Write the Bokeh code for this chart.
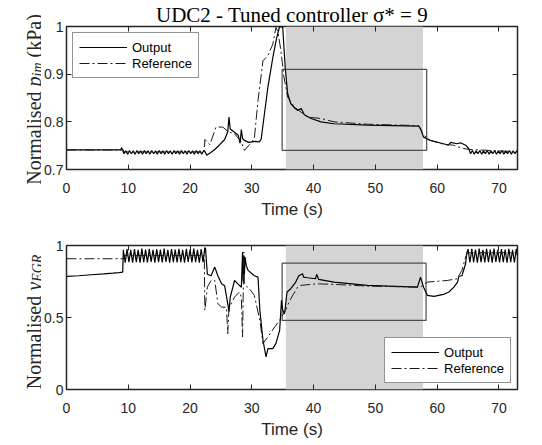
import numpy as np
from bokeh.plotting import figure
from bokeh.layouts import column, row
from bokeh.models import LinearAxis, FixedTicker, CustomJSTickFormatter
from bokeh.core.properties import value
from bokeh.embed import file_html
from bokeh.resources import INLINE

# ---------------- data ----------------
T_MAX = 73
x_ticks = [0, 10, 20, 30, 40, 50, 60, 70]
top_y_ticks = [0.7, 0.8, 0.9, 1.0]
top_y_labels = {0.7: "0.7", 0.8: "0.8", 0.9: "0.9", 1.0: "1"}
bot_y_ticks = [0, 0.5, 1.0]
bot_y_labels = {0: "0", 0.5: "0.5", 1.0: "1"}

shade_t = [35.5, 57.7]
top_box = [34.9, 58.3, 0.740, 0.910]
bot_box = [34.9, 58.2, 0.48, 0.877]

title_text = "UDC2 - Tuned controller σ* = 9"
top_ylabel_parts = ["Normalised", "p", "im", "(kPa)"]
bot_ylabel_parts = ["Normalised", "y", "EGR"]

# top: normalised p_im, output
top_out_pts = [
    (0, 0.741), (8.8, 0.741), (8.9, 0.746), (9.1, 0.741),
    (9.3, 0.733), (9.6, 0.739), (9.9, 0.732), (10.2, 0.740), (10.5, 0.733), (10.8, 0.739),
    (11.1, 0.732), (11.4, 0.740), (11.7, 0.733), (12.0, 0.739), (12.3, 0.732), (12.6, 0.740),
    (12.9, 0.733), (13.2, 0.739), (13.5, 0.732), (13.8, 0.740), (14.1, 0.733), (14.4, 0.739),
    (14.7, 0.732), (15.0, 0.740), (15.3, 0.733), (15.6, 0.739), (15.9, 0.732), (16.2, 0.740),
    (16.5, 0.733), (16.8, 0.739), (17.1, 0.732), (17.4, 0.740), (17.7, 0.733), (18.0, 0.739),
    (18.3, 0.732), (18.6, 0.740), (18.9, 0.733), (19.2, 0.739), (19.5, 0.732), (19.8, 0.740),
    (20.1, 0.733), (20.4, 0.739), (20.7, 0.732), (21.0, 0.740), (21.3, 0.733), (21.6, 0.739),
    (21.9, 0.732), (22.2, 0.740),
    (22.4, 0.738), (22.7, 0.730), (23.3, 0.735), (24.0, 0.742), (24.8, 0.752), (25.6, 0.763),
    (26.1, 0.779), (26.3, 0.810), (26.5, 0.785), (27.2, 0.778), (27.8, 0.772), (28.1, 0.755),
    (28.3, 0.784), (28.5, 0.765), (28.8, 0.761), (29.5, 0.757), (30.5, 0.759), (31.2, 0.758),
    (31.5, 0.763), (32.6, 0.873), (33.4, 0.935), (34.0, 0.975), (34.5, 1.000), (35.0, 0.998),
    (35.4, 0.914), (35.8, 0.859), (36.3, 0.838), (37.0, 0.828), (37.4, 0.824), (38.0, 0.828),
    (38.5, 0.815), (39.6, 0.807), (41.2, 0.800), (43.3, 0.796), (48.7, 0.793), (57.0, 0.791),
    (57.3, 0.786), (57.8, 0.768), (58.9, 0.761), (61.0, 0.754), (61.8, 0.751), (62.2, 0.757),
    (63.2, 0.754), (63.8, 0.756), (64.6, 0.751), (65.1, 0.744),
    (65.4, 0.733), (65.7, 0.740), (66.0, 0.732), (66.3, 0.739), (66.6, 0.733), (66.9, 0.740),
    (67.2, 0.732), (67.5, 0.739), (67.8, 0.733), (68.1, 0.740), (68.4, 0.732), (68.7, 0.739),
    (69.0, 0.733), (69.3, 0.740), (69.6, 0.732), (69.9, 0.739), (70.2, 0.733), (70.5, 0.740),
    (70.8, 0.732), (71.1, 0.739), (71.4, 0.733), (71.7, 0.740), (72.0, 0.732), (72.3, 0.739),
    (72.6, 0.733), (72.9, 0.740), (73.0, 0.736),
]
# top: reference
top_ref_pts = [
    (0, 0.741), (9.2, 0.741), (9.3, 0.737), (22.3, 0.737), (22.4, 0.763), (23.2, 0.752),
    (24.2, 0.789), (25.3, 0.789), (26.1, 0.780), (27.2, 0.775), (28.3, 0.758), (28.8, 0.740),
    (29.6, 0.752), (30.4, 0.765), (31.0, 0.845), (31.8, 0.928), (32.6, 0.939), (33.4, 0.963),
    (33.9, 0.998), (34.2, 0.990), (34.7, 0.950), (35.2, 0.894), (35.8, 0.852), (36.9, 0.831),
    (39.0, 0.810), (41.2, 0.807), (43.3, 0.800), (48.7, 0.795), (57.0, 0.792), (57.8, 0.772),
    (58.9, 0.761), (61.0, 0.753), (62.6, 0.751), (64.2, 0.744), (65.3, 0.742), (73.0, 0.737),
]
# bottom: normalised y_EGR, output
bot_out_pts = [
    (0, 0.785), (2, 0.790), (4, 0.797), (6, 0.803), (7.5, 0.808), (8.5, 0.812), (9.1, 0.815),
    (9.2, 0.970), (9.5, 0.880), (9.8, 0.975), (10.1, 0.885), (10.4, 0.970), (10.7, 0.880),
    (11.0, 0.975), (11.3, 0.885), (11.6, 0.970), (11.9, 0.880), (12.2, 0.978), (12.5, 0.884),
    (12.8, 0.972), (13.1, 0.882), (13.4, 0.976), (13.7, 0.886), (14.0, 0.970), (14.3, 0.880),
    (14.6, 0.975), (14.9, 0.884), (15.2, 0.972), (15.5, 0.882), (15.8, 0.978), (16.1, 0.886),
    (16.4, 0.970), (16.7, 0.880), (17.0, 0.975), (17.3, 0.885), (17.6, 0.972), (17.9, 0.882),
    (18.2, 0.977), (18.5, 0.884), (18.8, 0.970), (19.1, 0.880), (19.4, 0.976), (19.7, 0.886),
    (20.0, 0.972), (20.3, 0.882), (20.6, 0.978), (20.9, 0.884), (21.2, 0.970), (21.5, 0.880),
    (21.8, 0.975), (22.1, 0.885), (22.4, 0.985),
    (22.5, 0.980), (22.8, 0.800), (23.4, 0.790), (24.0, 0.850), (24.5, 0.790), (25.1, 0.734),
    (25.6, 0.720), (26.1, 0.596), (26.3, 0.540), (26.5, 0.640), (27.2, 0.757), (27.7, 0.735),
    (28.3, 0.710), (28.5, 0.954), (28.6, 0.750), (28.7, 0.930), (28.8, 0.800), (28.9, 0.920),
    (29.1, 0.860), (29.4, 0.827), (30.4, 0.790), (31.0, 0.780), (31.3, 0.550), (31.8, 0.342),
    (32.3, 0.226), (32.6, 0.284), (33.4, 0.284), (33.9, 0.320), (34.5, 0.410), (34.8, 0.619),
    (35.0, 0.550), (35.3, 0.527), (35.7, 0.677), (36.3, 0.700), (37.1, 0.746), (37.6, 0.790),
    (38.2, 0.804), (38.4, 0.780), (39.0, 0.776), (40.3, 0.769), (40.5, 0.800), (40.8, 0.765),
    (43.3, 0.746), (48.7, 0.723), (56.8, 0.711), (57.3, 0.780), (57.8, 0.710), (58.4, 0.654),
    (59.5, 0.647), (61.0, 0.660), (61.9, 0.677), (62.7, 0.711), (63.3, 0.746), (63.5, 0.785),
    (64.0, 0.790), (64.6, 0.873), (64.8, 0.950),
    (65.0, 0.975), (65.3, 0.882), (65.6, 0.976), (65.9, 0.884), (66.2, 0.972), (66.5, 0.880),
    (66.8, 0.978), (67.1, 0.885), (67.4, 0.970), (67.7, 0.882), (68.0, 0.976), (68.3, 0.884),
    (68.6, 0.972), (68.9, 0.880), (69.2, 0.978), (69.5, 0.886), (69.8, 0.970), (70.1, 0.882),
    (70.4, 0.975), (70.7, 0.884), (71.0, 0.972), (71.3, 0.880), (71.6, 0.977), (71.9, 0.885),
    (72.2, 0.970), (72.5, 0.882), (72.8, 0.976), (73.0, 0.930),
]
# bottom: reference
bot_ref_pts = [
    (0, 0.908), (9.2, 0.908), (9.3, 0.930), (22.3, 0.930), (22.4, 0.550), (22.8, 0.711),
    (23.4, 0.757), (24.0, 0.757), (24.5, 0.596), (25.1, 0.573), (25.9, 0.570), (26.1, 0.388),
    (26.3, 0.565), (27.2, 0.642), (28.0, 0.677), (28.3, 0.640), (28.5, 0.365), (28.7, 0.954),
    (28.8, 0.730), (29.6, 0.700), (30.4, 0.654), (31.3, 0.480), (31.8, 0.319), (32.6, 0.365),
    (33.7, 0.434), (34.5, 0.480), (35.3, 0.538), (36.3, 0.630), (37.4, 0.711), (37.9, 0.723),
    (40.6, 0.734), (43.3, 0.730), (48.7, 0.718), (57.3, 0.711), (58.4, 0.746), (61.6, 0.757),
    (63.2, 0.769), (64.0, 0.827), (64.6, 0.919), (64.9, 0.950), (73.0, 0.950),
]

# ---------------- styling ----------------
INK = "#262626"
SANS = "Liberation Sans"
SERIF = "Liberation Serif"
REF_DASH = "10 3 2 3"
LAB_W = 41            # width of the strip holding the rotated y labels
LEFT_B, RIGHT_B = 23, 16
FRAME_W = 453
MAIN_W = LEFT_B + FRAME_W + RIGHT_B
H1, H2 = 225, 220
TOTAL_H = H1 + H2


def make_fig(y0, y1, yticks, ylabels, top_b, bottom_b, height, title=None):
    p = figure(x_range=(0, T_MAX), y_range=(y0, y1), width=MAIN_W, height=height,
               title=title, output_backend="svg", toolbar_location=None,
               min_border_left=LEFT_B, min_border_right=RIGHT_B,
               min_border_top=top_b, min_border_bottom=bottom_b)
    p.grid.visible = False
    p.background_fill_color = "white"
    p.border_fill_color = "white"
    p.outline_line_color = INK
    p.outline_line_width = 1.5
    for ax, ticks in ((p.xaxis, x_ticks), (p.yaxis, yticks)):
        ax.ticker = FixedTicker(ticks=ticks)
        ax.major_tick_in = 5
        ax.major_tick_out = 0
        ax.major_tick_line_color = INK
        ax.minor_tick_line_color = None
        ax.axis_line_color = None
        ax.major_label_text_font = SANS
        ax.major_label_text_font_size = "14px"
        ax.major_label_text_color = INK
    p.yaxis.major_label_overrides = ylabels
    p.yaxis.major_label_standoff = 3
    p.xaxis.major_label_standoff = 13
    p.xaxis.axis_label = "Time (s)"
    p.xaxis.axis_label_text_font = SANS
    p.xaxis.axis_label_text_font_size = "17px"
    p.xaxis.axis_label_text_font_style = "normal"
    p.xaxis.axis_label_text_color = INK
    p.xaxis.axis_label_standoff = 4
    blank = CustomJSTickFormatter(code="return ''")
    for loc, ticks in (("above", x_ticks), ("right", yticks)):
        m = LinearAxis(ticker=FixedTicker(ticks=ticks), formatter=blank,
                       axis_line_color=None, major_tick_in=5, major_tick_out=0,
                       major_tick_line_color=INK, minor_tick_line_color=None,
                       major_label_standoff=0)
        p.add_layout(m, loc)
    return p


def add_series(p, out_pts, ref_pts, y0, y1, box):
    p.quad(left=[shade_t[0]], right=[shade_t[1]], bottom=[y0], top=[y1],
           fill_color="#d4d4d4", line_color=None)
    p.quad(left=[box[0]], right=[box[1]], bottom=[box[2]], top=[box[3]],
           fill_color=None, line_color="#4d4d4d", line_width=1.2)
    ot, ov = zip(*out_pts)
    rt, rv = zip(*ref_pts)
    p.line(list(ot), list(ov), line_color="black", line_width=1.2, legend_label="Output")
    p.line(list(rt), list(rv), line_color="#1a1a1a", line_width=1.0, line_dash=REF_DASH,
           legend_label="Reference")


def style_legend(p, loc):
    lg = p.legend[0]
    lg.location = loc
    lg.margin = 6
    lg.padding = 6
    lg.spacing = 0
    lg.glyph_width = 48
    lg.glyph_height = 16
    lg.label_height = 16
    lg.label_standoff = 5
    lg.label_text_font = SANS
    lg.label_text_font_size = "13px"
    lg.label_text_color = "black"
    lg.border_line_color = INK
    lg.border_line_width = 1
    lg.background_fill_color = "white"
    lg.background_fill_alpha = 1


# ---------------- main plots ----------------
p1 = make_fig(0.7, 1.0, top_y_ticks, top_y_labels, 25, 56, H1, title=title_text)
p1.title.text_font = SERIF
p1.title.text_font_size = "21px"
p1.title.text_font_style = "normal"
p1.title.text_color = "black"
p1.title.align = "center"
p1.title.standoff = 0
p1.title.offset = -3
add_series(p1, top_out_pts, top_ref_pts, 0.7, 1.0, top_box)
style_legend(p1, "top_left")

p2 = make_fig(0.0, 1.0, bot_y_ticks, bot_y_labels, 20, 56, H2)
add_series(p2, bot_out_pts, bot_ref_pts, 0.0, 1.0, bot_box)
style_legend(p2, "bottom_right")

# ---------------- left strip with both rotated y labels ----------------
ls = figure(frame_width=LAB_W, frame_height=TOTAL_H, x_range=(0, LAB_W), y_range=(0, TOTAL_H),
            output_backend="svg", title=None, toolbar_location=None,
            x_axis_type=None, y_axis_type=None, min_border=0)
ls.grid.visible = False
ls.outline_line_color = None
ls.background_fill_color = "white"
ls.border_fill_color = "white"

# each label: parts, font sizes, styles, baseline shifts, advances, centre (px from page top)
labels = [
    (top_ylabel_parts, [20, 20, 14, 20], ["normal", "italic", "italic", "normal"],
     [0, 0, 4, 0], [98.3, 10, 19, 43.3], 99),
    (bot_ylabel_parts, [20, 20, 14], ["normal", "italic", "italic"],
     [0, 0, 4], [98.3, 9, 28], 321),
]
for parts, sizes, styles, shifts, advs, centre in labels:
    pos = (TOTAL_H - centre) - sum(advs) / 2.0
    for txt, sz, st, sh, adv in zip(parts, sizes, styles, shifts, advs):
        ls.text(x=[33 + sh], y=[pos], text=[txt], angle=np.pi / 2, text_align="left",
                text_baseline="alphabetic", text_font=value(SERIF),
                text_font_size=value(f"{sz}px"), text_font_style=value(st), text_color=INK)
        pos += adv

layout = row(ls, column(p1, p2, spacing=0), spacing=0)
open("out.html", "w").write(file_html(layout, INLINE))
